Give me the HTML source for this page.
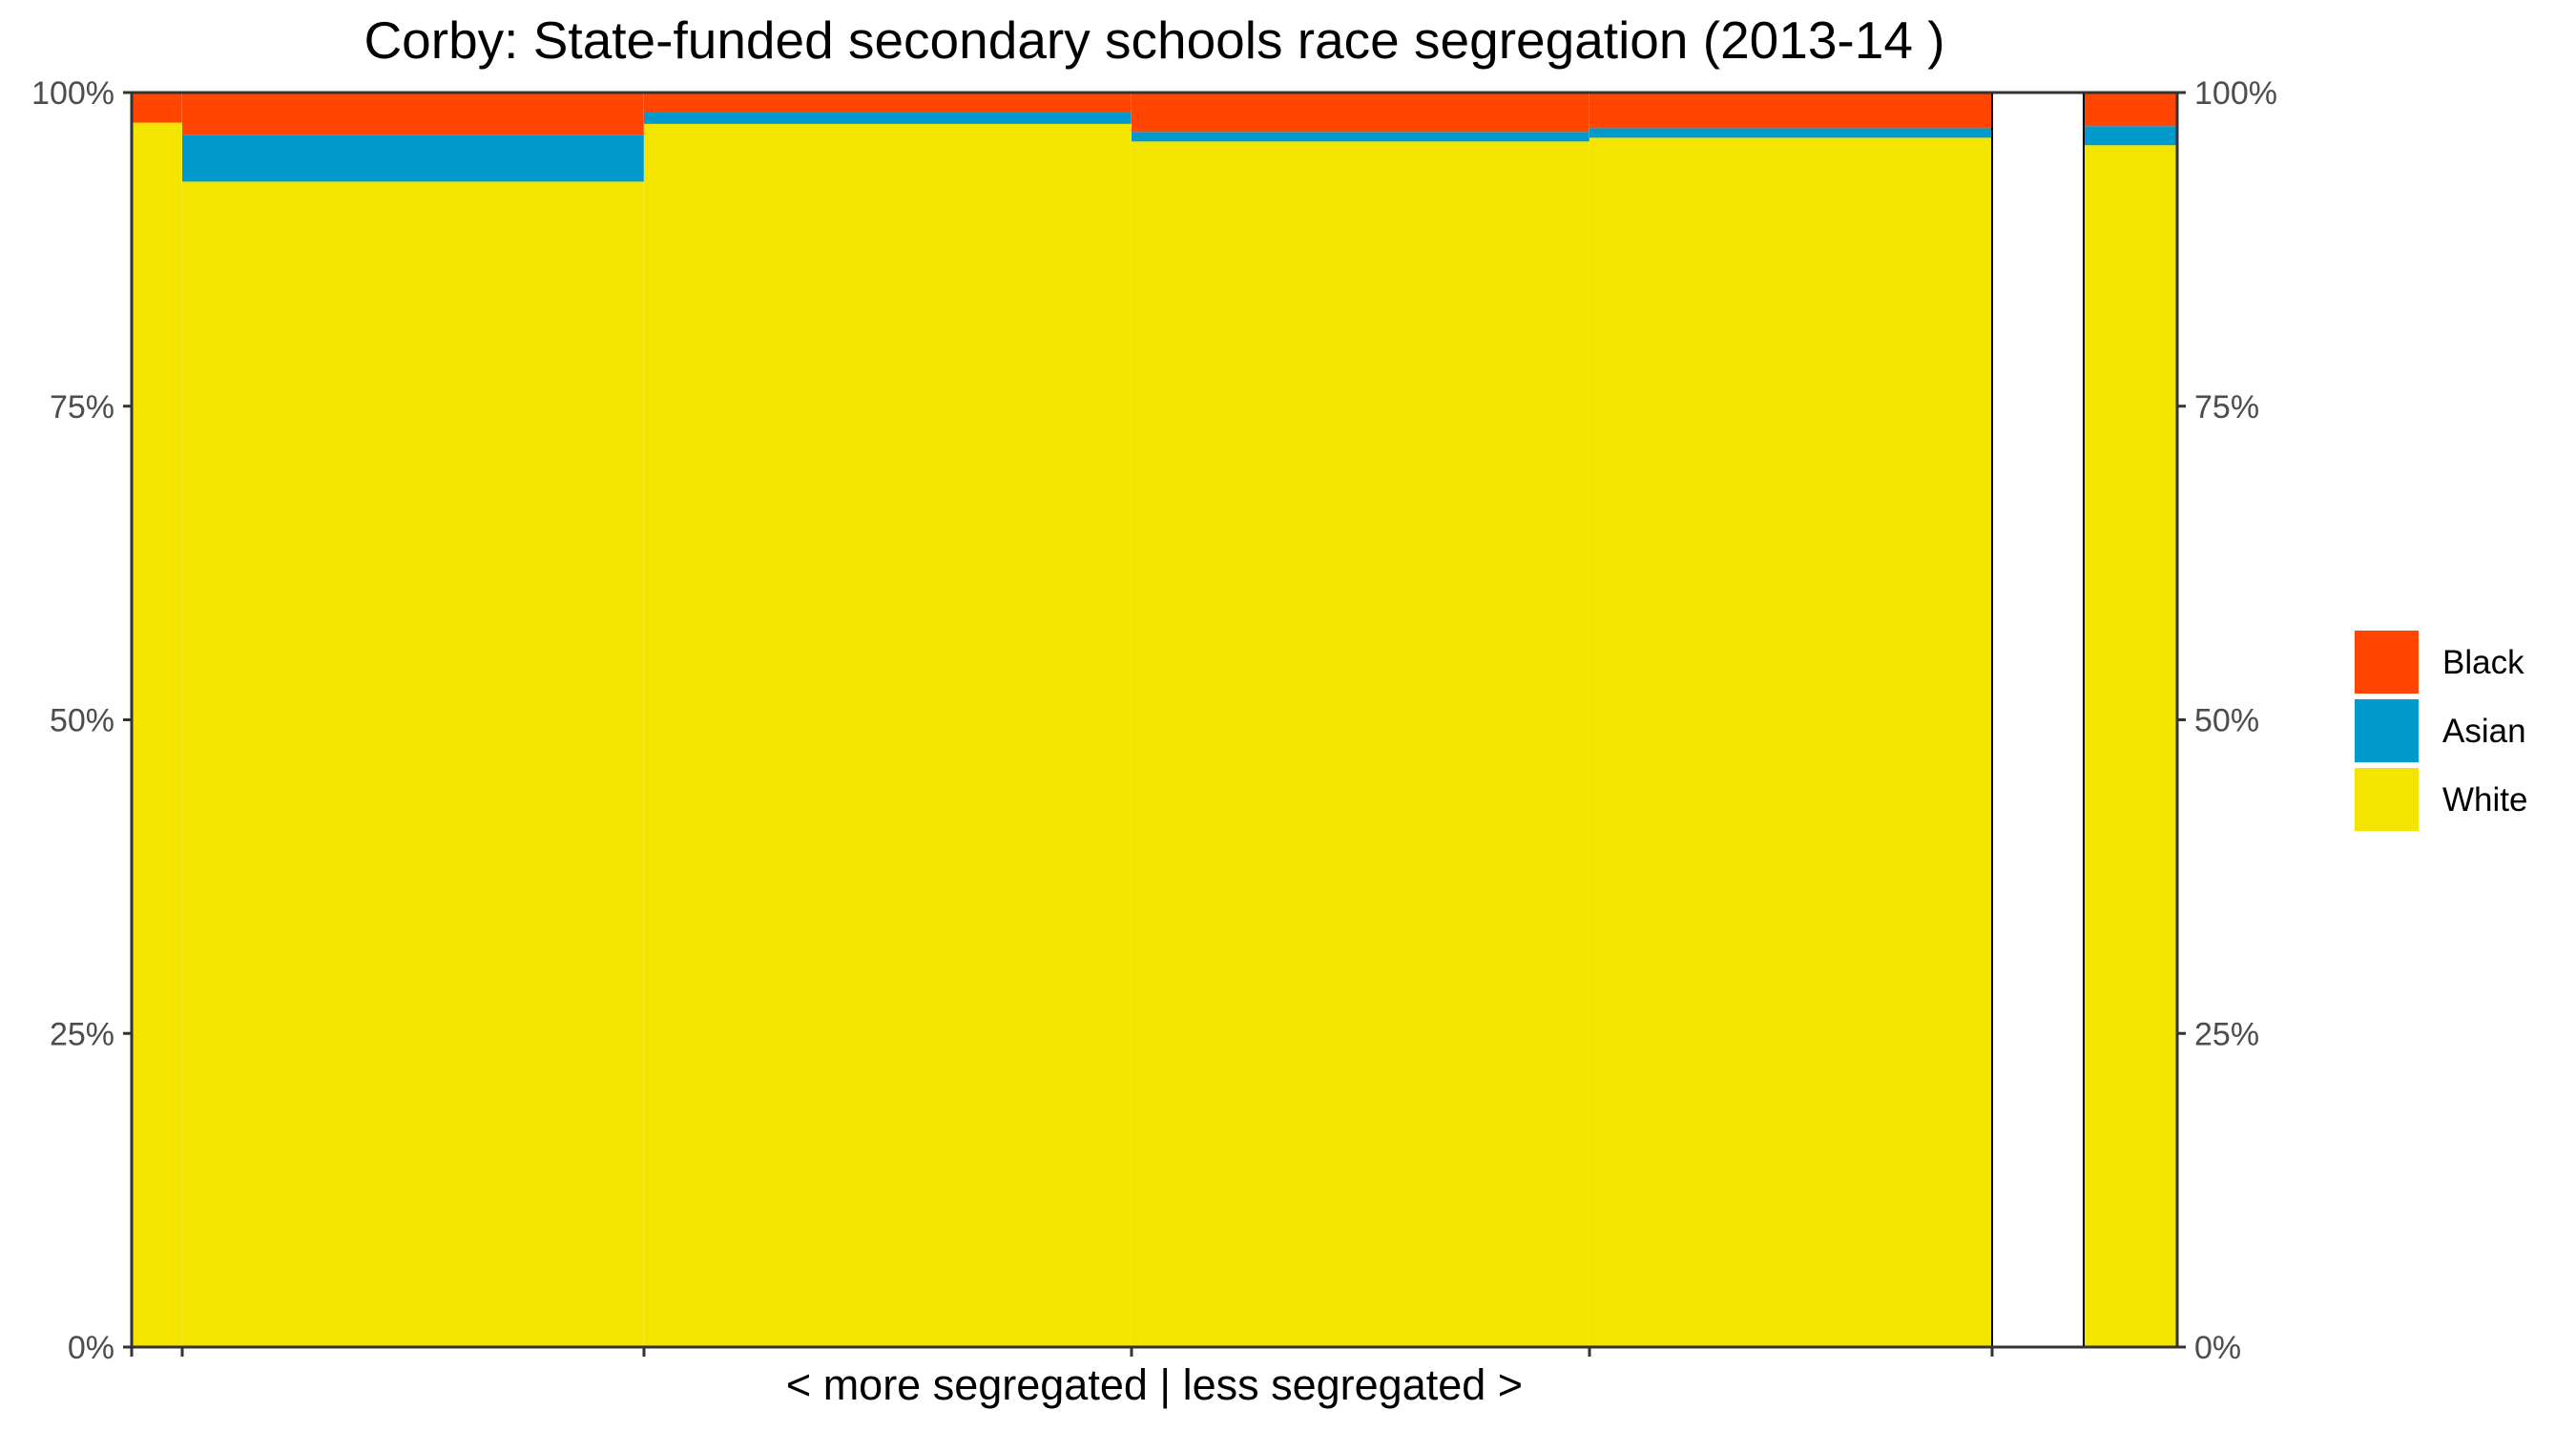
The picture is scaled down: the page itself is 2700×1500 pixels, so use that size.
<!DOCTYPE html>
<html><head><meta charset="utf-8"><style>
html,body{margin:0;padding:0;background:#fff;}
svg{display:block;font-family:"Liberation Sans",Arial,sans-serif;}
</style></head><body>
<svg id="chart" width="2700" height="1500" viewBox="0 0 2700 1500">
<text x="1210" y="61" text-anchor="middle" font-size="55" fill="#000">Corby: State-funded secondary schools race segregation (2013-14 )</text>
<g id="bars"></g>
<g id="axes"></g>
<text x="1210" y="1467" text-anchor="middle" font-size="45" fill="#000">&lt; more segregated | less segregated &gt;</text>
<g>
<rect x="2468" y="661" width="67" height="66" fill="#FF4500"/>
<text x="2560" y="706" font-size="35" fill="#000">Black</text>
<rect x="2468" y="733" width="67" height="66" fill="#009ACD"/>
<text x="2560" y="778" font-size="35" fill="#000">Asian</text>
<rect x="2468" y="805" width="67" height="66" fill="#F3E500"/>
<text x="2560" y="850" font-size="35" fill="#000">White</text>
</g>
</svg>
<script>
const schools = ["school-1","school-2","school-3","school-4","school-5"];
const schoolSizes = [53, 484, 511, 480, 422];
const gapSize = 96;
const overallSize = 98;
const whitePct = [97.6, 92.9, 97.5, 96.1, 96.4];
const asianPct = [0.0, 3.73, 0.9, 0.76, 0.76];
const blackPct = [2.4, 3.37, 1.6, 3.14, 2.84];
const overallWhite = 95.8;
const overallAsian = 1.52;
const overallBlack = 2.68;
const yTicks = [0, 25, 50, 75, 100];
const yTickLabels = ["0%","25%","50%","75%","100%"];

const L=138, R=2282, T=97, B=1412;
const totalUnits = schoolSizes.reduce((a,b)=>a+b,0)+gapSize+overallSize;
const xs = u => L + u/totalUnits*(R-L);
const ys = v => B - v/100*(B-T);
const NS="http://www.w3.org/2000/svg";
const bars=document.getElementById('bars'), axes=document.getElementById('axes');
function mk(tag, attrs, parent){const e=document.createElementNS(NS,tag);for(const k in attrs)e.setAttribute(k,attrs[k]);parent.appendChild(e);return e;}

function stack(x0,x1,w,a,b,name,outline){
  let r;
  r=mk('rect',{x:x0,y:ys(w),width:x1-x0,height:ys(0)-ys(w),fill:'#F3E500'},bars);
  
  
  r=mk('rect',{x:x0,y:ys(w+a),width:x1-x0,height:ys(w)-ys(w+a),fill:'#009ACD'},bars);
  
  
  r=mk('rect',{x:x0,y:ys(100),width:x1-x0,height:ys(w+a)-ys(100),fill:'#FF4500'},bars);
  
  
  if(outline){
    r=mk('rect',{x:x0,y:T,width:x1-x0,height:B-T,fill:'none',stroke:'#000','stroke-width':2},bars);
    
    
  }
}
let cum=0; const tickXs=[];
schools.forEach((s,i)=>{
  const x0=xs(cum), x1=xs(cum+schoolSizes[i]);
  tickXs.push(x0);
  stack(x0,x1,whitePct[i],asianPct[i],blackPct[i],'bar-'+s,false);
  const sep=mk('line',{x1:x1,x2:x1,y1:T,y2:B,stroke:'#fff','stroke-opacity':0.35,'stroke-width':1},bars);
  
  
  cum+=schoolSizes[i];
});
tickXs.push(xs(cum));
const g=mk('rect',{x:xs(cum),y:T,width:xs(cum+gapSize)-xs(cum),height:B-T,fill:'#fff',stroke:'#000','stroke-width':2},bars);


cum+=gapSize;
stack(xs(cum),xs(cum+overallSize),overallWhite,overallAsian,overallBlack,'bar-overall',true);

[[L,T,L,B],[R,T,R,B],[L,B,R,B],[L,T,R,T]].forEach(c=>{
  const l=mk('line',{x1:c[0],y1:c[1],x2:c[2],y2:c[3],stroke:'#333','stroke-width':3},axes);
  
  
});
yTicks.forEach((v,i)=>{
  const y=ys(v);
  let t=mk('line',{x1:L-9,x2:L,y1:y,y2:y,stroke:'#333','stroke-width':3},axes);
  
  
  t=mk('line',{x1:R,x2:R+9,y1:y,y2:y,stroke:'#333','stroke-width':3},axes);
  
  
  let tx=mk('text',{x:L-18,y:y+12,'text-anchor':'end','font-size':34,fill:'#4d4d4d'},axes);
  tx.textContent=yTickLabels[i];
  
  
  tx=mk('text',{x:R+18,y:y+12,'text-anchor':'start','font-size':34,fill:'#4d4d4d'},axes);
  tx.textContent=yTickLabels[i];
  
  
});
tickXs.forEach(x=>{
  const t=mk('line',{x1:x,x2:x,y1:B,y2:B+10,stroke:'#333','stroke-width':3},axes);
  
  
});
</script>
</body></html>
